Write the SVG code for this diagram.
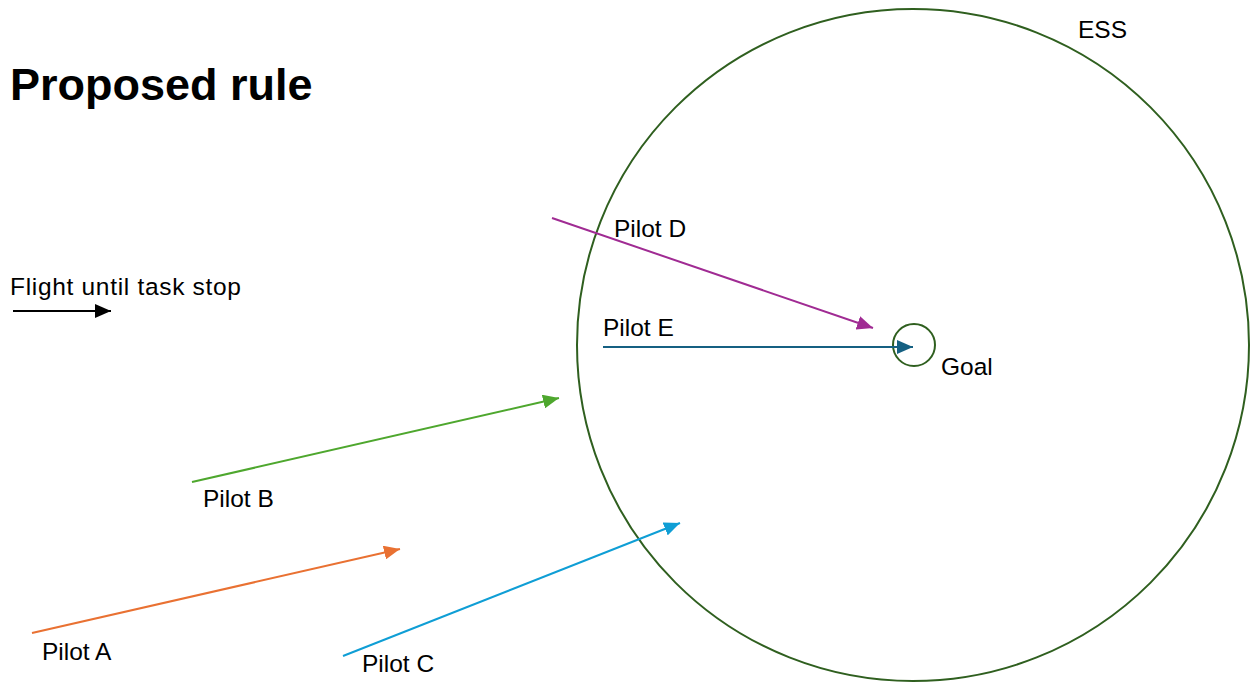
<svg xmlns="http://www.w3.org/2000/svg" width="1251" height="682" viewBox="0 0 1251 682">
<style>
text{font-family:"Liberation Sans",Arial,sans-serif;font-size:24.5px;fill:#000}
.title{font-size:45px;font-weight:bold}
.ln{stroke-width:2;fill:none}
.ring{fill:none;stroke:#2F5F1F;stroke-width:2}
</style>
<defs>
<marker id="ak" markerWidth="17" markerHeight="14" refX="16" refY="7" orient="auto" markerUnits="userSpaceOnUse"><path d="M0,0 L16,7 L0,14 Z" fill="#000"/></marker>
<marker id="ao" markerWidth="17" markerHeight="14" refX="16" refY="7" orient="auto" markerUnits="userSpaceOnUse"><path d="M0,0 L16,7 L0,14 Z" fill="#E97132"/></marker>
<marker id="ag" markerWidth="17" markerHeight="14" refX="16" refY="7" orient="auto" markerUnits="userSpaceOnUse"><path d="M0,0 L16,7 L0,14 Z" fill="#4EA72E"/></marker>
<marker id="ab" markerWidth="17" markerHeight="14" refX="16" refY="7" orient="auto" markerUnits="userSpaceOnUse"><path d="M0,0 L16,7 L0,14 Z" fill="#0F9ED5"/></marker>
<marker id="ap" markerWidth="17" markerHeight="14" refX="16" refY="7" orient="auto" markerUnits="userSpaceOnUse"><path d="M0,0 L16,7 L0,14 Z" fill="#A02B93"/></marker>
<marker id="at" markerWidth="17" markerHeight="14" refX="16" refY="7" orient="auto" markerUnits="userSpaceOnUse"><path d="M0,0 L16,7 L0,14 Z" fill="#156082"/></marker>
</defs>
<rect width="1251" height="682" fill="#fff"/>
<text class="title" x="10" y="100">Proposed rule</text>
<g id="ess">
<circle class="ring" cx="913" cy="345" r="336"/>
<text x="1078" y="38">ESS</text>
</g>
<g id="goal">
<circle class="ring" cx="914" cy="345" r="21"/>
<text x="941" y="375">Goal</text>
</g>
<g id="legend">
<text x="10" y="295" textLength="231">Flight until task stop</text>
</g>
<g id="pilot-a"><text x="42" y="660">Pilot A</text></g>
<g id="pilot-b"><text x="203" y="507">Pilot B</text></g>
<g id="pilot-c"><text x="362" y="672">Pilot C</text></g>
<g id="pilot-d"><text x="614" y="237">Pilot D</text></g>
<g id="pilot-e"><text x="603" y="336">Pilot E</text></g>
<g id="connectors">
<line class="ln" x1="13" y1="311" x2="111" y2="311" stroke="#000" marker-end="url(#ak)"/>
<line class="ln" x1="552" y1="218" x2="873" y2="328" stroke="#A02B93" marker-end="url(#ap)"/>
<line class="ln" x1="603" y1="347" x2="913" y2="347" stroke="#156082" marker-end="url(#at)"/>
<line class="ln" x1="192" y1="482" x2="559" y2="398" stroke="#4EA72E" marker-end="url(#ag)"/>
<line class="ln" x1="32" y1="633" x2="400" y2="549" stroke="#E97132" marker-end="url(#ao)"/>
<line class="ln" x1="343" y1="656" x2="680" y2="523" stroke="#0F9ED5" marker-end="url(#ab)"/>
</g>
</svg>
